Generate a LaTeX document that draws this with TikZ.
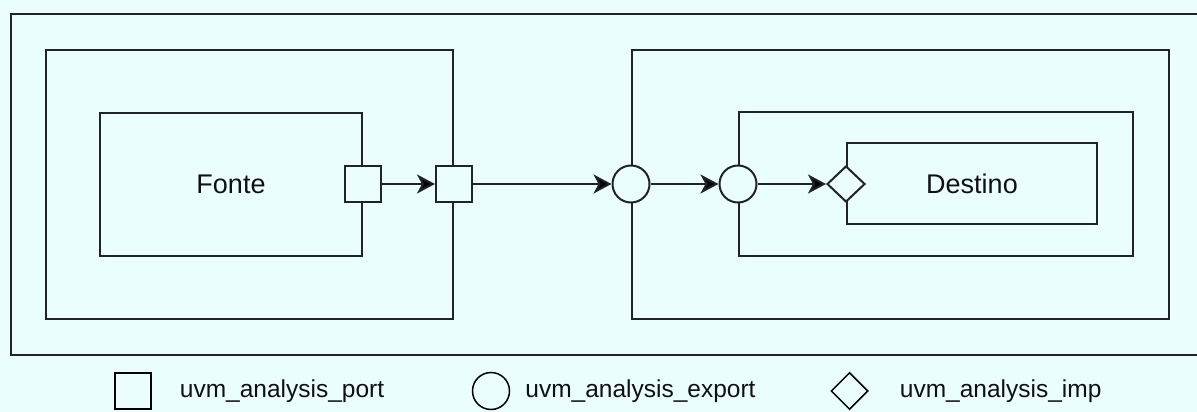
\documentclass[tikz,border=0pt]{standalone}
\usepackage{fontspec}
\setmainfont{Liberation Sans}
\usepackage{xcolor}
\usetikzlibrary{shapes.geometric, arrows.meta, positioning}

\definecolor{bgCyan}{RGB}{234,254,254}
\definecolor{lineGray}{RGB}{32,35,40}
\definecolor{txtDark}{RGB}{16,16,20}

\begin{document}
\begin{tikzpicture}[x=1pt, y=-1pt,
    % ── boxes ──
    envBox/.style    = {draw=lineGray, line width=2pt, inner sep=0pt},
    % ── ports ──
    portSq/.style    = {draw=lineGray, fill=bgCyan, line width=2pt,
                        minimum size=36pt, inner sep=0pt},
    portCirc/.style  = {circle, draw=lineGray, fill=bgCyan, line width=2pt,
                        minimum size=37pt, inner sep=0pt},
    portDia/.style   = {diamond, draw=lineGray, fill=bgCyan, line width=2pt,
                        minimum width=38pt, minimum height=36pt, inner sep=0pt},
    % ── arrows ──
    arr/.style       = {-{Stealth[length=18pt, width=19pt, inset=5pt, fill=black]},
                        line width=2pt, lineGray},
    % ── text styles ──
    mainLabel/.style = {font=\fontsize{27}{32}\selectfont, text=txtDark},
    legLabel/.style  = {font=\fontsize{24.5}{29}\selectfont, text=txtDark,
                        inner sep=0pt, anchor=west},
]

\def\midY{184}  % vertical centreline

\fill[bgCyan] (0,0) rectangle (1197,412);
\useasboundingbox (0,0) rectangle (1197,412);

% outer frame (its right side runs past the page)
\node[envBox, minimum width=1194pt, minimum height=341pt] (frame)
  at (608,184.5) {};

% =====================================================================
% Source side
% =====================================================================
\node[envBox, minimum width=407pt, minimum height=269pt] (srcEnv)
  at (249.5,184.5) {};
\node[envBox, minimum width=262pt, minimum height=143pt] (fonte)
  at (231,184.5) {};
\node[mainLabel] (fonteTxt) at (fonte.center) {Fonte};

% =====================================================================
% Destination side
% =====================================================================
\node[envBox, minimum width=537pt, minimum height=269pt] (dstEnv)
  at (900.5,184.5) {};
\node[envBox, minimum width=394pt, minimum height=144pt] (dstAgent)
  at (936,184) {};
\node[envBox, minimum width=250pt, minimum height=81pt] (destino)
  at (972,183.5) {};
\node[mainLabel] (destinoTxt) at (destino.center) {Destino};

% =====================================================================
% Ports on the box edges
% =====================================================================
\node[portSq]   (portA) at (fonte.east |- 0,\midY) {};
\node[portSq]   (portB) at (srcEnv.east |- 0,\midY) {};
\node[portCirc] (expA)  at (dstEnv.west |- 0,\midY) {};
\node[portCirc] (expB)  at (dstAgent.west |- 0,\midY) {};
\node[portDia]  (impC)  at (destino.west |- 0,\midY) {};

% connections
\draw[arr] (portA) -- (portB);
\draw[arr] (portB) -- (expA);
\draw[arr] (expA)  -- (expB);
\draw[arr] (expB)  -- (impC);

% =====================================================================
% Legend
% =====================================================================
\node[draw=black, line width=1.5pt, minimum size=36pt, inner sep=0pt]
  (legPort) at (133,391) {};
\node[legLabel, right=28pt of legPort] (legPortTxt) {uvm\_analysis\_port};

\node[circle, draw=black, line width=1.5pt, minimum size=37pt, inner sep=0pt]
  (legExp) at (491,391) {};
\node[legLabel, right=15pt of legExp] (legExpTxt) {uvm\_analysis\_export};

\node[diamond, draw=black, line width=1.5pt, minimum width=37pt,
      minimum height=37pt, inner sep=0pt]
  (legImp) at (849.5,391) {};
\node[legLabel, right=31pt of legImp] (legImpTxt) {uvm\_analysis\_imp};

\end{tikzpicture}
\end{document}
